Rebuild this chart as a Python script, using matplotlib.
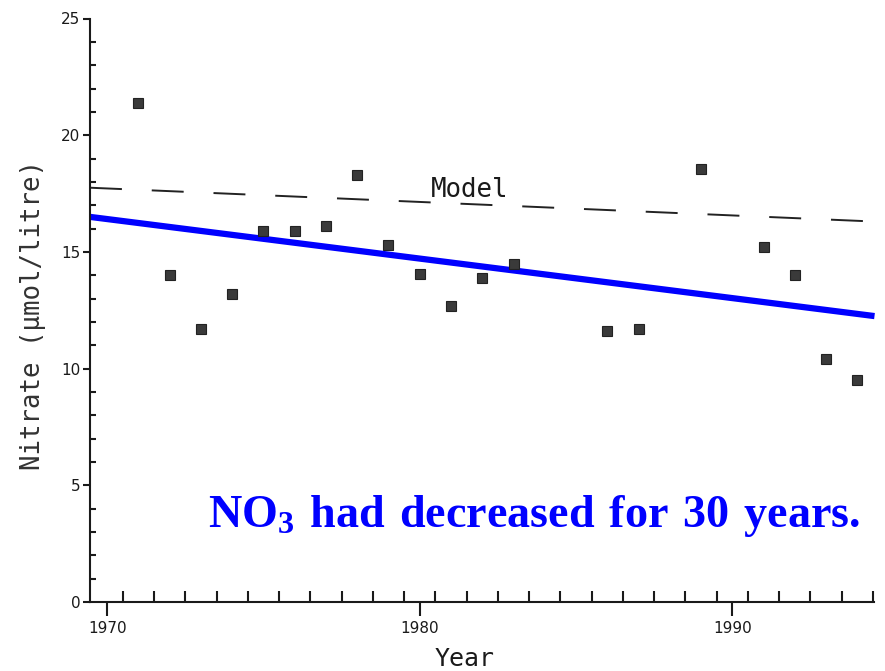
import numpy as np
import matplotlib
matplotlib.use("Agg")
import matplotlib.pyplot as plt
from matplotlib.ticker import MultipleLocator, FixedLocator

# data
years = [1971, 1972, 1973, 1974, 1975, 1976, 1977, 1978, 1979, 1980,
         1981, 1982, 1983, 1986, 1987, 1989, 1991, 1992, 1993, 1994]
nitrate = [21.4, 14.0, 11.7, 13.2, 15.9, 15.9, 16.1, 18.3, 15.3, 14.05,
           12.7, 13.9, 14.5, 11.6, 11.7, 18.55, 15.2, 14.0, 10.4, 9.5]

model_years = [1969.45, 1994.55]
model_vals = [17.75, 16.3]

trend_years = [1969.45, 1994.55]
trend_vals = [16.5, 12.25]

x_major = [1970, 1980, 1990]
x_labels = ['1970', '1980', '1990']

plt.rcParams['lines.scale_dashes'] = False
plt.rcParams['mathtext.fontset'] = 'custom'
plt.rcParams['mathtext.rm'] = 'Liberation Serif'
plt.rcParams['mathtext.bf'] = 'Liberation Serif:bold'

fig = plt.figure(figsize=(8.85, 6.71), dpi=100)
ax = fig.add_axes([90 / 885, 69 / 671, 784.5 / 885, 583.5 / 671])

ax.plot(model_years, model_vals, color='#222222', lw=1.4, dashes=(23, 21.5))
ax.text(1980.35, 17.37, 'Model', family='DejaVu Sans Mono', fontsize=18.5,
        ha='left', va='baseline', color='#1a1a1a')
ax.plot(trend_years, trend_vals, color='#0000ff', lw=4.5, solid_capstyle='butt')
ax.plot(years, nitrate, ls='none', marker='s', ms=7.8, mfc='#3a3a3a',
        mec='#222222', mew=0.8)

ax.set_xlim(1969.45, 1994.55)
ax.set_ylim(0, 25)

for s in ['top', 'right']:
    ax.spines[s].set_visible(False)
for s in ['left', 'bottom']:
    ax.spines[s].set_linewidth(1.5)
    ax.spines[s].set_color('#1a1a1a')

ax.xaxis.set_major_locator(FixedLocator(x_major))
ax.set_xticklabels(x_labels)
ax.xaxis.set_minor_locator(FixedLocator(np.arange(1970.5, 1995, 1.0)))
ax.yaxis.set_major_locator(MultipleLocator(5))
ax.yaxis.set_minor_locator(MultipleLocator(1))

ax.tick_params(axis='x', which='major', direction='out', length=10, width=1.5,
               labelsize=11, pad=4, colors='#1a1a1a')
ax.tick_params(axis='x', which='minor', direction='in', length=8, width=1.5,
               colors='#1a1a1a')
ax.tick_params(axis='y', which='major', direction='out', length=5, width=1.5,
               labelsize=11, pad=2, colors='#1a1a1a')
ax.tick_params(axis='y', which='minor', direction='in', length=4, width=1.5,
               colors='#1a1a1a')

fig.text(33 / 885, 1 - 315 / 671, 'Nitrate (\u03bcmol/litre)', rotation=90,
         family='DejaVu Sans Mono', fontsize=18.5, ha='center', va='center',
         color='#333333')
fig.text(465 / 885, 1 - 659 / 671, 'Year', family='DejaVu Sans Mono',
         fontsize=18, ha='center', va='center', color='#1a1a1a')

fig.text(208 / 885, 1 - 527 / 671,
         r'$\mathbf{NO_3\ had\ decreased\ for\ 30\ years.}$',
         fontsize=33.2, color='#0000ff', ha='left', va='baseline')

fig.savefig('out.png', dpi=100)
plt.close()
